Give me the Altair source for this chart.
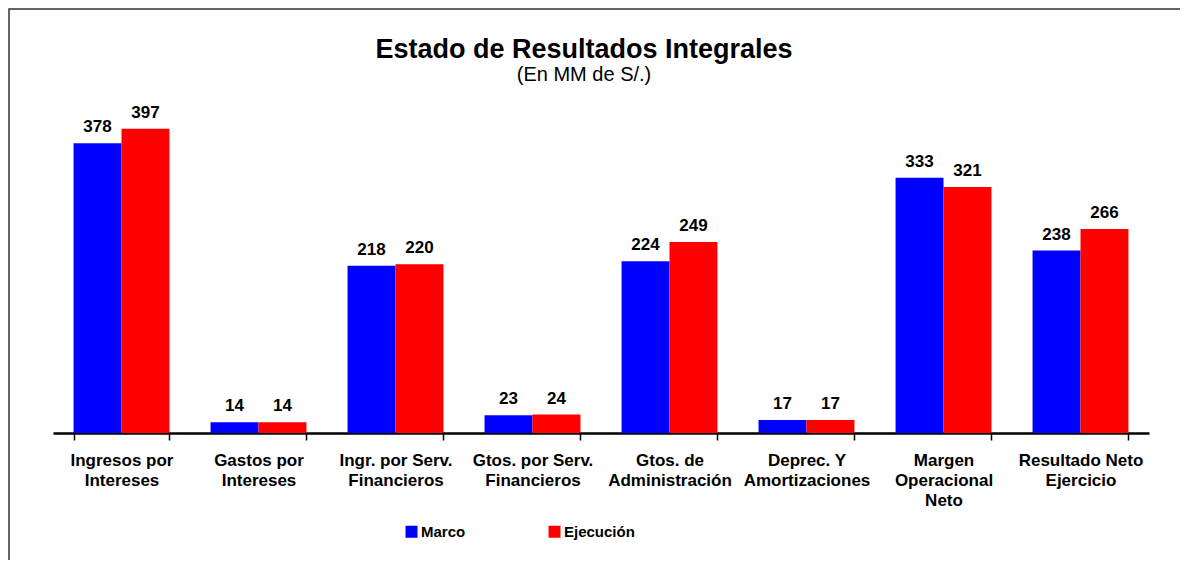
import altair as alt
import pandas as pd

categories = ["Ingresos por|Intereses", "Gastos por|Intereses", "Ingr. por Serv.|Financieros",
              "Gtos. por Serv.|Financieros", "Gtos. de|Administración", "Deprec. Y|Amortizaciones",
              "Margen|Operacional|Neto", "Resultado Neto|Ejercicio"]
series = ["Marco", "Ejecución"]
marco = [378, 14, 218, 23, 224, 17, 333, 238]
ejecucion = [397, 14, 220, 24, 249, 17, 321, 266]
colors = ["#0000FF", "#FF0000"]

rows = []
for c, m, e in zip(categories, marco, ejecucion):
    rows.append({"cat": c, "serie": "Marco", "valor": m})
    rows.append({"cat": c, "serie": "Ejecución", "valor": e})
df = pd.DataFrame(rows)

FONT = "Liberation Sans"

x = alt.X("cat:N", sort=categories, title=None,
          scale=alt.Scale(paddingInner=0.3, paddingOuter=0.15),
          axis=alt.Axis(labelExpr="split(datum.label, '|')", labelAngle=0, labelFontSize=17,
                        labelFontWeight="bold", labelColor="black", labelLineHeight=20,
                        labelPadding=12, labelLimit=0, domainColor="black", domainWidth=2.5,
                        tickColor="black", tickWidth=1.5, tickSize=7, tickBand="extent",
                        labelFont=FONT))
y = alt.Y("valor:Q", scale=alt.Scale(domain=[0, 450], nice=False), axis=None)
xo = alt.XOffset("serie:N", sort=series)
color = alt.Color("serie:N", sort=series,
                  scale=alt.Scale(domain=series, range=colors),
                  legend=alt.Legend(title=None, orient="none", legendX=351, legendY=436,
                                    direction="horizontal", symbolType="square", symbolSize=144,
                                    symbolStrokeWidth=0, labelFontSize=15, labelFontWeight="bold",
                                    labelColor="black", labelFont=FONT, columnPadding=81,
                                    labelOffset=2))

base = alt.Chart(df)
bars = base.mark_bar().encode(x=x, y=y, xOffset=xo, color=color)
labels = base.mark_text(dy=-7, baseline="bottom", fontSize=17, fontWeight="bold",
                        font=FONT, color="black").encode(x=x, y=y, xOffset=xo, text="valor:Q")

frame = alt.Chart(pd.DataFrame({"a": [0]})).mark_rect(
    fill=None, stroke="#333333", strokeWidth=1.5
).encode(x=alt.value(-44), x2=alt.value(1400), y=alt.value(-79), y2=alt.value(900))

chart = alt.layer(frame, bars, labels).properties(
    width=1096, height=345,
    title=alt.TitleParams("Estado de Resultados Integrales", subtitle="(En MM de S/.)",
                          font=FONT, fontSize=27, fontWeight="bold", color="black",
                          subtitleFont=FONT, subtitleFontSize=20, subtitleColor="black",
                          subtitlePadding=1, anchor="middle", dx=-17, offset=-78, frame="group"),
    autosize=alt.AutoSizeParams(type="none"),
    padding={"left": 45, "top": 80, "right": 31, "bottom": 127},
).configure(background="white").configure_view(stroke=None, strokeWidth=0)

chart.save("out.html", embed_options={"renderer": "svg", "actions": False})
